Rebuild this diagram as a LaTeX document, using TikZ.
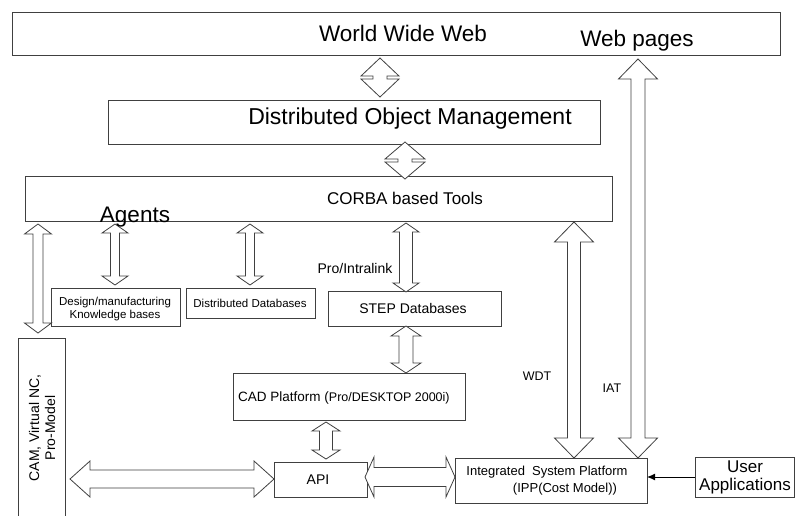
\documentclass[tikz,border=0pt]{standalone}
\usepackage{fontspec}
\setmainfont{Liberation Sans}
\usetikzlibrary{arrows.meta,calc}
\newcommand\fsz[1]{\fontsize{#1}{#1}\selectfont}
% vertical hollow double arrow: top apex, bottom apex, head half-width, shaft half-width, head length
\newcommand\vdbl[5]{\draw[hollow] let \p1=(#1), \p2=(#2) in
  (\x1,\y1) -- ({\x1+#3},{\y1-#5}) -- ({\x1+#4},{\y1-#5}) -- ({\x1+#4},{\y2+#5}) -- ({\x1+#3},{\y2+#5})
  -- (\x1,\y2) -- ({\x1-#3},{\y2+#5}) -- ({\x1-#4},{\y2+#5}) -- ({\x1-#4},{\y1-#5}) -- ({\x1-#3},{\y1-#5}) -- cycle;}
% horizontal hollow double arrow: left apex, right apex, head half-height, shaft half-height, head length
\newcommand\hdbl[5]{\draw[hollow] let \p1=(#1), \p2=(#2) in
  (\x1,\y1) -- ({\x1+#5},{\y1+#3}) -- ({\x1+#5},{\y1+#4}) -- ({\x2-#5},{\y1+#4}) -- ({\x2-#5},{\y1+#3})
  -- (\x2,\y1) -- ({\x2-#5},{\y1-#3}) -- ({\x2-#5},{\y1-#4}) -- ({\x1+#5},{\y1-#4}) -- ({\x1+#5},{\y1-#3}) -- cycle;}
\newcommand\boxnode[5]{\node[box, anchor=north west, minimum width={#4-#2}, minimum height={#5-#3}] (#1) at (#2,#3) {};}
\begin{document}
\begin{tikzpicture}[x=1pt,y=-1pt,
  box/.style={draw=black!75, line width=0.8pt, inner sep=0, outer sep=0},
  hollow/.style={draw=black!75, line width=0.8pt, fill=white, line join=miter},
  lbl/.style={anchor=base, inner sep=0, text=black}]
\useasboundingbox (0,0) rectangle (795,515);
\fill[white] (0,0) rectangle (795,515);

% boxes
\boxnode{www}{12}{12}{780}{55}
\boxnode{dom}{108}{100}{600}{144}
\boxnode{corba}{25}{176}{612}{221}
\boxnode{kb}{51}{288}{180}{326}
\boxnode{dd}{186}{288}{315}{318}
\boxnode{step}{328}{291}{501}{326}
\boxnode{cad}{233}{373}{465}{420}
\boxnode{api}{274}{462}{367}{497}
\boxnode{isp}{455}{458}{647}{503}
\boxnode{ua}{695}{457}{794}{497}
\boxnode{cam}{18}{338}{65}{530}

% hollow double arrows
\vdbl{380,58}{380,97}{19}{7}{18}
\vdbl{405,142}{405,179}{20}{7}{17}
\vdbl{38,224}{38,333}{13.5}{5}{10}
\vdbl{115,224}{115,285}{13}{4.5}{9}
\vdbl{250,224}{250,285}{13}{4.5}{9}
\vdbl{406,223}{406,292}{13}{6.5}{9}
\vdbl{406,326}{406,373}{15}{7}{10}
\vdbl{326,422}{326,459}{14}{6.5}{9}
\vdbl{574,222}{574,458}{19.5}{6.5}{20}
\vdbl{638,59}{638,458}{19.5}{7}{20}
\hdbl{70,479}{274,479}{18}{9}{20}
\hdbl{365,477}{455,477}{20}{9.5}{9}

% user applications arrow
\draw[draw=black, line width=1pt, -{Latex[length=8pt,width=7pt]}] (ua.west) -- (ua.west -| isp.east);

% texts
\node[lbl] (t-www) at (403,41) {\fsz{22.5}World Wide Web};
\node[lbl] (t-web) at (637,46) {\fsz{22.5}Web pages};
\node[lbl] (t-dom) at (410,124) {\fsz{23}Distributed Object Management};
\node[lbl] (t-corba) at (405,204) {\fsz{17}CORBA based Tools};
\node[lbl] (t-agents) at (135,222) {\fsz{22.5}Agents};
\node[lbl] (t-pro) at (355,273) {\fsz{14}Pro/Intralink};
\node[lbl] (t-kb1) at (115,305) {\fsz{11.5}Design/manufacturing};
\node[lbl] (t-kb2) at (115,318) {\fsz{11.5}Knowledge bases};
\node[lbl] (t-dd) at (250,307) {\fsz{11.5}Distributed Databases};
\node[lbl] (t-step) at (413,313) {\fsz{14}STEP Databases};
\node[lbl, anchor=base west] (t-cad) at (238,401) {\fsz{13.5}CAD Platform (\fsz{12.5}Pro/DESKTOP 2000i)};
\node[lbl] (t-api) at (318,484) {\fsz{14}API};
\node[lbl] (t-isp1) at (547,475) {\fsz{13}Integrated\ \ System Platform};
\node[lbl] (t-isp2) at (565,492) {\fsz{13}(IPP(Cost Model))};
\node[lbl] (t-ua1) at (745,472) {\fsz{17}User};
\node[lbl] (t-ua2) at (745,490) {\fsz{17}Applications};
\node[lbl] (t-wdt) at (537,380) {\fsz{12.5}WDT};
\node[lbl] (t-iat) at (612,392) {\fsz{12.5}IAT};
\node[lbl, rotate=90] (t-cam1) at (39,428) {\fsz{14}CAM, Virtual NC,};
\node[lbl, rotate=90] (t-cam2) at (55,428) {\fsz{14}Pro-Model};
\end{tikzpicture}
\end{document}
